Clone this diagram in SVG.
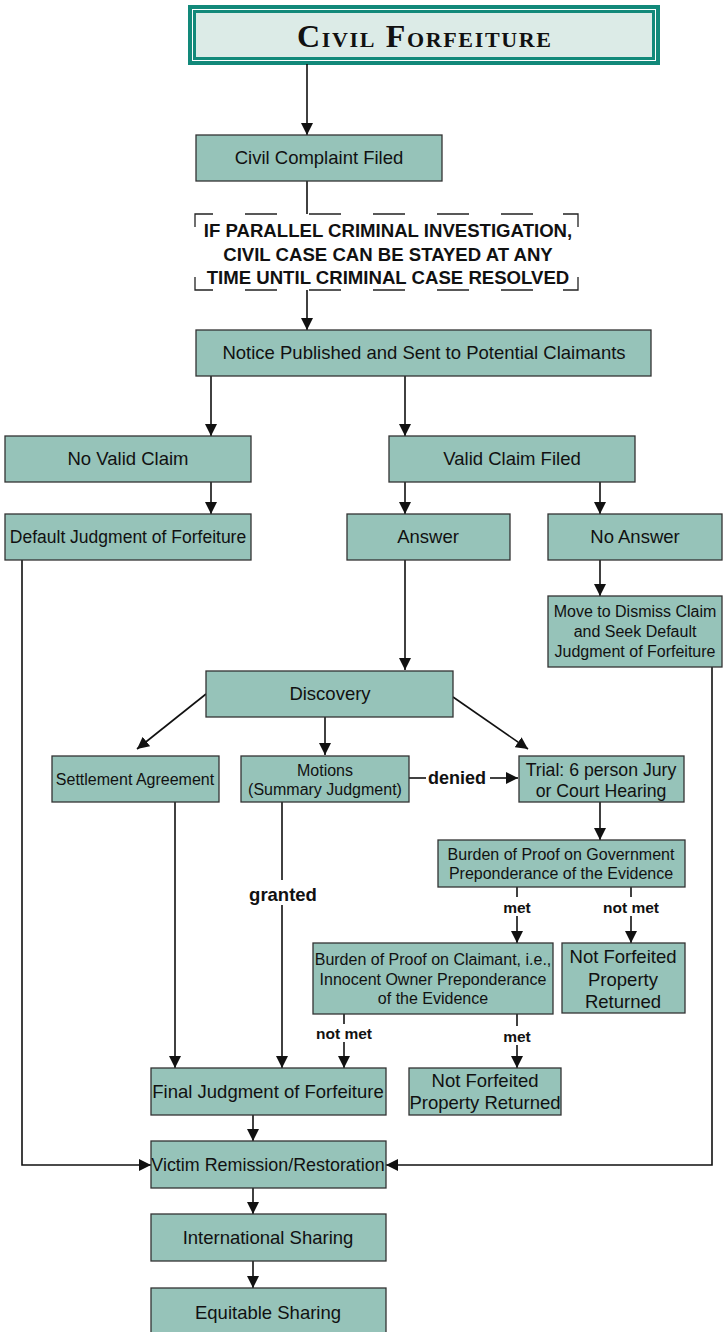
<svg xmlns="http://www.w3.org/2000/svg" width="728" height="1332" viewBox="0 0 728 1332">
<style>
.n{fill:#96c3b9;stroke:#333;stroke-width:1.3}
.t{font-family:"Liberation Sans",Arial,sans-serif;fill:#111;text-anchor:middle}
.L{font-size:18.5px}
.M{font-size:16px}
.B{font-size:18.5px}
.lb{font-family:"Liberation Sans",Arial,sans-serif;font-weight:bold;fill:#111;text-anchor:middle}
.c{fill:none;stroke:#111;stroke-width:1.6}
.d{fill:none;stroke:#222;stroke-width:1.3}
</style>
<defs>
<marker id="a" markerUnits="userSpaceOnUse" markerWidth="12" markerHeight="12" refX="12" refY="6" orient="auto">
<path d="M0,0 L12,6 L0,12 z" fill="#111"/>
</marker>
</defs>
<rect width="728" height="1332" fill="#fff"/>

<g id="title">
<rect x="188" y="5" width="472" height="60" fill="#12897a"/>
<rect x="192" y="9" width="464" height="52" fill="#fff"/>
<rect x="193" y="10" width="462" height="50" fill="#12897a"/>
<rect x="196" y="13" width="456" height="44" fill="#dcebe7"/>
<text x="424" y="47" textLength="254" lengthAdjust="spacing" style="font-family:'Liberation Serif','Times New Roman',serif;font-weight:bold;font-size:32px;font-variant:small-caps;text-anchor:middle;fill:#111">Civil Forfeiture</text>
</g>

<g id="connectors">
<path class="c" d="M307,64 V135" marker-end="url(#a)"/>
<path class="c" d="M307,181 V214"/>
<path class="c" d="M307,290 V330" marker-end="url(#a)"/>
<path class="c" d="M211,376 V436" marker-end="url(#a)"/>
<path class="c" d="M405,376 V436" marker-end="url(#a)"/>
<path class="c" d="M211,482 V514" marker-end="url(#a)"/>
<path class="c" d="M405,482 V514" marker-end="url(#a)"/>
<path class="c" d="M600,482 V514" marker-end="url(#a)"/>
<path class="c" d="M600,560 V596" marker-end="url(#a)"/>
<path class="c" d="M405,560 V670" marker-end="url(#a)"/>
<path class="c" d="M206,694 L137,749" marker-end="url(#a)"/>
<path class="c" d="M325,717 V755" marker-end="url(#a)"/>
<path class="c" d="M453,697 L528,749" marker-end="url(#a)"/>
<path class="c" d="M409,778 H426"/>
<path class="c" d="M490,778 H518" marker-end="url(#a)"/>
<path class="c" d="M600,802 V840" marker-end="url(#a)"/>
<path class="c" d="M517,887 V897"/>
<path class="c" d="M517,916 V943" marker-end="url(#a)"/>
<path class="c" d="M631,887 V897"/>
<path class="c" d="M631,916 V943" marker-end="url(#a)"/>
<path class="c" d="M344,1014 V1024"/>
<path class="c" d="M344,1042 V1068" marker-end="url(#a)"/>
<path class="c" d="M517,1014 V1026"/>
<path class="c" d="M517,1045 V1068" marker-end="url(#a)"/>
<path class="c" d="M175,802 V1068" marker-end="url(#a)"/>
<path class="c" d="M282,802 V880"/>
<path class="c" d="M282,905 V1068" marker-end="url(#a)"/>
<path class="c" d="M22,560 V1165 H151" marker-end="url(#a)"/>
<path class="c" d="M712,667 V1165 H386" marker-end="url(#a)"/>
<path class="c" d="M253,1115 V1141" marker-end="url(#a)"/>
<path class="c" d="M253,1188 V1214" marker-end="url(#a)"/>
<path class="c" d="M253,1261 V1288" marker-end="url(#a)"/>
</g>

<g id="labels">
<text class="lb" x="457" y="784" style="font-size:18px">denied</text>
<text class="lb" x="283" y="901" style="font-size:18.5px">granted</text>
<text class="lb" x="517" y="913" style="font-size:15.5px">met</text>
<text class="lb" x="631" y="913" style="font-size:15.5px">not met</text>
<text class="lb" x="344" y="1039" style="font-size:15.5px">not met</text>
<text class="lb" x="517" y="1042" style="font-size:15.5px">met</text>
</g>

<g id="complaint">
<rect class="n" x="196" y="135" width="246" height="46"/>
<text class="t L" x="319" y="164">Civil Complaint Filed</text>
</g>

<g id="stay-note">
<path class="d" d="M195,227 V214 H213 M245,214 H277 M309,214 H341 M373,214 H405 M437,214 H469 M501,214 H533 M563,214 H578 V227 M578,277 V290 H563 M533,290 H501 M469,290 H437 M405,290 H373 M341,290 H309 M277,290 H245 M213,290 H195 V277"/>
<text class="lb" style="font-size:18.6px" x="388" y="237">IF PARALLEL CRIMINAL INVESTIGATION,</text>
<text class="lb" style="font-size:18.6px" x="388" y="261">CIVIL CASE CAN BE STAYED AT ANY</text>
<text class="lb" style="font-size:18.6px" x="388" y="284">TIME UNTIL CRIMINAL CASE RESOLVED</text>
</g>

<g id="notice">
<rect class="n" x="196" y="330" width="455" height="46"/>
<text class="t L" x="424" y="359">Notice Published and Sent to Potential Claimants</text>
</g>

<g id="no-valid-claim">
<rect class="n" x="5" y="436" width="246" height="46"/>
<text class="t L" x="128" y="465">No Valid Claim</text>
</g>

<g id="valid-claim">
<rect class="n" x="389" y="436" width="246" height="46"/>
<text class="t L" x="512" y="465">Valid Claim Filed</text>
</g>

<g id="default-judgment">
<rect class="n" x="5" y="514" width="246" height="46"/>
<text class="t" style="font-size:17.5px" x="128" y="543">Default Judgment of Forfeiture</text>
</g>

<g id="answer">
<rect class="n" x="347" y="514" width="163" height="46"/>
<text class="t L" x="428" y="543">Answer</text>
</g>

<g id="no-answer">
<rect class="n" x="548" y="514" width="174" height="46"/>
<text class="t L" x="635" y="543">No Answer</text>
</g>

<g id="move-dismiss">
<rect class="n" x="548" y="596" width="174" height="71"/>
<text class="t M" x="635" y="617">Move to Dismiss Claim</text>
<text class="t M" x="635" y="637">and Seek Default</text>
<text class="t M" x="635" y="657">Judgment of Forfeiture</text>
</g>

<g id="discovery">
<rect class="n" x="206" y="671" width="247" height="46"/>
<text class="t L" x="330" y="700">Discovery</text>
</g>

<g id="settlement">
<rect class="n" x="52" y="756" width="167" height="46"/>
<text class="t M" x="135" y="785">Settlement Agreement</text>
</g>

<g id="motions">
<rect class="n" x="241" y="756" width="168" height="46"/>
<text class="t M" x="325" y="776">Motions</text>
<text class="t M" x="325" y="795">(Summary Judgment)</text>
</g>

<g id="trial">
<rect class="n" x="519" y="756" width="165" height="46"/>
<text class="t" style="font-size:17.7px" x="601" y="776">Trial: 6 person Jury</text>
<text class="t" style="font-size:17.7px" x="601" y="797">or Court Hearing</text>
</g>

<g id="burden-gov">
<rect class="n" x="438" y="840" width="247" height="47"/>
<text class="t M" x="561" y="860">Burden of Proof on Government</text>
<text class="t M" x="561" y="879">Preponderance of the Evidence</text>
</g>

<g id="burden-claimant">
<rect class="n" x="313" y="943" width="240" height="71"/>
<text class="t M" x="433" y="965">Burden of Proof on Claimant, i.e.,</text>
<text class="t M" x="433" y="985">Innocent Owner Preponderance</text>
<text class="t M" x="433" y="1004">of the Evidence</text>
</g>

<g id="not-forfeited-1">
<rect class="n" x="562" y="943" width="123" height="70"/>
<text class="t B" x="623" y="963">Not Forfeited</text>
<text class="t B" x="623" y="986">Property</text>
<text class="t B" x="623" y="1008">Returned</text>
</g>

<g id="final-judgment">
<rect class="n" x="151" y="1068" width="235" height="47"/>
<text class="t L" x="268" y="1098">Final Judgment of Forfeiture</text>
</g>

<g id="not-forfeited-2">
<rect class="n" x="409" y="1068" width="152" height="47"/>
<text class="t B" x="485" y="1087">Not Forfeited</text>
<text class="t B" x="485" y="1109">Property Returned</text>
</g>

<g id="victim">
<rect class="n" x="151" y="1141" width="235" height="47"/>
<text class="t" style="font-size:17.9px" x="268" y="1171">Victim Remission/Restoration</text>
</g>

<g id="international">
<rect class="n" x="151" y="1214" width="235" height="47"/>
<text class="t L" x="268" y="1244">International Sharing</text>
</g>

<g id="equitable">
<rect class="n" x="151" y="1288" width="235" height="50"/>
<text class="t L" x="268" y="1319">Equitable Sharing</text>
</g>
</svg>
